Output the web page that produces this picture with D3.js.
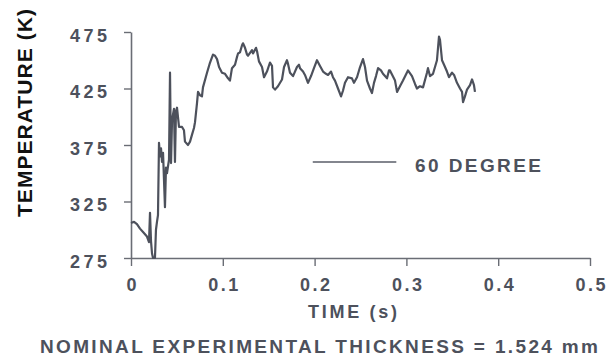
<!DOCTYPE html>
<html>
<head>
<meta charset="utf-8">
<script src="https://cdn.jsdelivr.net/npm/d3@7"></script>
<style>
  html, body { margin: 0; padding: 0; background: #fff; }
  svg { display: block; font-family: "Liberation Sans", Arial, sans-serif; }
</style>
</head>
<body>
<div id="chart"></div>
<script>
// ---- data ----
const timeS = [
  0.000, 0.0033, 0.0065, 0.0098, 0.0131, 0.0174, 0.0196, 0.0207, 0.0218, 0.0229,
  0.0240, 0.0261, 0.0272, 0.0283, 0.0294, 0.0305, 0.0316, 0.0327, 0.0338, 0.0349,
  0.0370, 0.0381, 0.0392, 0.0414, 0.0425, 0.0436, 0.0447, 0.0468, 0.0479, 0.0490,
  0.0501, 0.0523, 0.0556, 0.0577, 0.0588, 0.0621, 0.0643, 0.0664, 0.0686, 0.0697,
  0.0719, 0.0730, 0.0752, 0.0773, 0.0784, 0.0828, 0.0861, 0.0893, 0.0915, 0.0937,
  0.0959, 0.0991, 0.1024, 0.1057, 0.1078, 0.1100, 0.1133, 0.1155, 0.1166, 0.1187,
  0.1209, 0.1220, 0.1242, 0.1264, 0.1275, 0.1318, 0.1329, 0.1362, 0.1373, 0.1394,
  0.1427, 0.1449, 0.1481, 0.1514, 0.1536, 0.1547, 0.1569, 0.1601, 0.1645, 0.1667,
  0.1699, 0.1710, 0.1732, 0.1765, 0.1808, 0.1830, 0.1841, 0.1874, 0.1895, 0.1928,
  0.1961, 0.1993, 0.2026, 0.2059, 0.2092, 0.2124, 0.2146, 0.2179, 0.2200, 0.2222,
  0.2255, 0.2288, 0.2309, 0.2331, 0.2364, 0.2407, 0.2429, 0.2462, 0.2495, 0.2527,
  0.2549, 0.2571, 0.2603, 0.2625, 0.2647, 0.2669, 0.2691, 0.2723, 0.2745, 0.2789,
  0.2810, 0.2821, 0.2876, 0.2898, 0.2930, 0.2963, 0.3017, 0.3061, 0.3094, 0.3115,
  0.3148, 0.3181, 0.3224, 0.3235, 0.3257, 0.3290, 0.3333, 0.3355, 0.3366, 0.3388,
  0.3410, 0.3442, 0.3464, 0.3497, 0.3519, 0.3551, 0.3584, 0.3606, 0.3617, 0.3638,
  0.3660, 0.3693, 0.3715, 0.3736, 0.3747
];
const tempK = [
  306, 307, 305, 301, 298, 294, 289, 315, 290, 279,
  275, 275, 300, 307, 313, 377, 365, 372, 360, 368,
  320, 355, 350, 362, 439, 359, 397, 407, 360, 405,
  408, 391, 391, 388, 378, 375, 378, 384, 390, 395,
  412, 422, 419, 418, 426, 439, 448, 455, 454, 451,
  444, 439, 438, 434, 432, 443, 446, 453, 456, 457,
  463, 465, 461, 455, 454, 459, 456, 461, 458, 449,
  444, 435, 440, 448, 445, 426, 424, 427, 433, 444,
  450, 447, 439, 436, 444, 446, 443, 440, 437, 430,
  436, 443, 450, 445, 440, 438, 437, 440, 435, 432,
  425, 418, 423, 430, 435, 434, 430, 435, 444, 451,
  444, 432, 425, 421, 430, 436, 443, 441, 438, 434,
  441, 441, 432, 422, 427, 432, 441, 436, 429, 425,
  427, 426, 439, 443, 436, 438, 450, 471, 468, 450,
  446, 440, 435, 439, 437, 430, 425, 422, 413, 418,
  424, 428, 433, 428, 422
];
const xTicks = [0, 0.1, 0.2, 0.3, 0.4, 0.5];
const xTickLabels = ["0", "0.1", "0.2", "0.3", "0.4", "0.5"];
const yTicks = [275, 325, 375, 425, 475];
const yTickLabels = ["275", "325", "375", "425", "475"];
const seriesName = "60 DEGREE";

const W = 613, H = 361;
const INK = "#4d515c";

const svg = d3.select("#chart").append("svg")
  .attr("width", W).attr("height", H);

const x = d3.scaleLinear().domain([0, 0.5]).range([131, 590]);
const y = d3.scaleLinear().domain([275, 475]).range([258, 32]);

// x axis
const gx = svg.append("g")
  .attr("transform", `translate(0,${y(275)})`)
  .call(d3.axisBottom(x).tickValues(xTicks).tickSize(8).tickSizeOuter(0)
    .tickFormat((d, i) => xTickLabels[i]));
gx.select(".domain").attr("stroke", "#6a6d75").attr("stroke-width", 1.6);
gx.selectAll(".tick line").attr("stroke", "#6a6d75").attr("stroke-width", 1.4);
gx.selectAll(".tick text")
  .attr("y", 20).attr("dy", "0.71em")
  .attr("fill", INK).attr("font-size", 18).attr("font-weight", "bold")
  .attr("font-family", "Liberation Sans, Arial, sans-serif")
  .each(function (d, i) {
    if (xTickLabels[i].length > 1) {
      d3.select(this).attr("textLength", 30).attr("lengthAdjust", "spacing");
    }
  });

// y axis
const gy = svg.append("g")
  .attr("transform", `translate(${x(0)},0)`)
  .call(d3.axisLeft(y).tickValues(yTicks).tickSize(7).tickSizeOuter(0)
    .tickFormat((d, i) => yTickLabels[i]));
gy.select(".domain").attr("stroke", "#6a6d75").attr("stroke-width", 1.6);
gy.selectAll(".tick line").attr("stroke", "#6a6d75").attr("stroke-width", 1.4);
gy.selectAll(".tick text")
  .attr("x", -24).attr("dy", "0.52em")
  .attr("fill", INK).attr("font-size", 18).attr("font-weight", "bold")
  .attr("font-family", "Liberation Sans, Arial, sans-serif")
  .attr("textLength", 37).attr("lengthAdjust", "spacing");

// data line
const line = d3.line()
  .x((d, i) => x(timeS[i]))
  .y(d => y(d));

svg.append("path")
  .datum(tempK)
  .attr("fill", "none")
  .attr("stroke", INK)
  .attr("stroke-width", 2.2)
  .attr("stroke-linejoin", "round")
  .attr("d", line);

// legend
svg.append("line")
  .attr("x1", x(0.198)).attr("x2", x(0.289))
  .attr("y1", 162).attr("y2", 162)
  .attr("stroke", "#5a5e68").attr("stroke-width", 1.6);
svg.append("text")
  .attr("x", 415).attr("y", 172)
  .attr("fill", INK).attr("font-size", 19).attr("font-weight", "bold")
  .attr("textLength", 126).attr("lengthAdjust", "spacing")
  .text(seriesName);

// axis titles
svg.append("text")
  .attr("x", 308).attr("y", 318)
  .attr("fill", INK).attr("font-size", 18).attr("font-weight", "bold")
  .attr("textLength", 89).attr("lengthAdjust", "spacing")
  .text("TIME (s)");

svg.append("text")
  .attr("transform", "rotate(-90)")
  .attr("x", -217).attr("y", 32)
  .attr("fill", "#111").attr("font-size", 21).attr("font-weight", "bold")
  .attr("textLength", 208).attr("lengthAdjust", "spacing")
  .text("TEMPERATURE (K)");

svg.append("text")
  .attr("x", 40).attr("y", 353)
  .attr("fill", INK).attr("font-size", 19).attr("font-weight", "bold")
  .attr("textLength", 558).attr("lengthAdjust", "spacing")
  .text("NOMINAL EXPERIMENTAL THICKNESS = 1.524 mm");
</script>
</body>
</html>
